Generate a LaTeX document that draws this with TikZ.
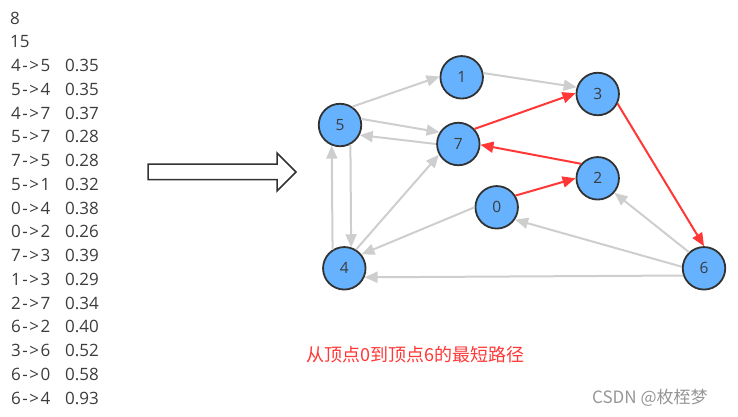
\documentclass[tikz,border=0pt]{standalone}
\usepackage{fontspec}
\setmainfont{Open Sans}
\newfontfamily\cjkfont{Noto Sans CJK SC}
\newfontfamily\listspaced{Open Sans}[LetterSpace=9]
\usetikzlibrary{arrows.meta}
\definecolor{edgegray}{RGB}{206,206,206}
\definecolor{pathred}{RGB}{255,55,55}
\definecolor{nodeblue}{RGB}{102,178,255}
\definecolor{borderdark}{RGB}{50,50,50}
\definecolor{textdark}{RGB}{60,60,60}
\definecolor{wmgray}{RGB}{150,150,150}
\tikzset{
  vertex/.style={circle, draw=borderdark, fill=nodeblue, line width=1.8pt,
    minimum size=42.5pt, inner sep=0pt, text=textdark,
    font=\fontsize{15.5}{15.5}\selectfont},
  gedge/.style={draw=edgegray, line width=2pt, -{Triangle[length=13pt,width=11pt]}},
  redge/.style={draw=pathred, line width=2pt, -{Triangle[length=13pt,width=11pt]}},
  listtxt/.style={anchor=base west, inner sep=0pt, text=textdark,
    font=\fontsize{17}{17}\selectfont},
  listedge/.style={listtxt, font=\listspaced\fontsize{17}{17}\selectfont},
  bigarrow/.style={draw=borderdark, line width=1.5pt, fill=white, line join=miter}
}
\begin{document}
\begin{tikzpicture}[x=1pt,y=-1pt]
\useasboundingbox (0,0) rectangle (738,416);

% left list
\node[listtxt] (l0) at (10,24) {8};
\node[listtxt] (l1) at (10,47.75) {15};
\foreach \i/\a/\b in {2/4->5/0.35,3/5->4/0.35,4/4->7/0.37,5/5->7/0.28,6/7->5/0.28,
  7/5->1/0.32,8/0->4/0.38,9/0->2/0.26,10/7->3/0.39,11/1->3/0.29,12/2->7/0.34,
  13/6->2/0.40,14/3->6/0.52,15/6->0/0.58,16/6->4/0.93}{
  \node[listedge] (la\i) at (11,24+\i*23.75) {\a};
  \node[listtxt] (lb\i) at (65,24+\i*23.75) {\b};
}

% hollow arrow
\draw[bigarrow] (148,164) -- (277,164) -- (277,153) -- (296,172) -- (277,191)
  -- (277,179.5) -- (148,179.5) -- cycle;

% vertices
\node[vertex] (n1) at (461.7,77.3) {1};
\node[vertex] (n3) at (597.7,94) {3};
\node[vertex] (n5) at (340,125) {5};
\node[vertex] (n7) at (458.3,144) {7};
\node[vertex] (n2) at (597.7,178.3) {2};
\node[vertex] (n0) at (496.7,207.3) {0};
\node[vertex] (n4) at (344.3,268.3) {4};
\node[vertex] (n6) at (704,268.3) {6};

% gray edges
\draw[gedge] (n5.56) -- (n1.178);
\draw[gedge] (n1.11) -- (n3.162);
\draw[gedge] (n5.16) -- (n7.148);
\draw[gedge] (n7.180) -- (n5.-27);
\draw[gedge] (n4.122) -- (n5.-112);
\draw[gedge] (n5.-62) -- (n4.72);
\draw[gedge] (n4.58) -- (n7.-151);
\draw[gedge] (n0.180) -- (n4.39);
\draw[gedge] (n6.133) -- (n2.-41);
\draw[gedge] (n6.176) -- (n0.-34);
\draw[gedge] (n6.-161) -- (n4.-24);

% red edges
\draw[redge] (n0.32) -- (n2.180);
\draw[redge] (n2.139) -- (n7.-2);
\draw[redge] (n7.43) -- (n3.178);
\draw[redge] (n3.-26) -- (n6.90);

% captions
\node[anchor=base west, inner sep=0pt, text=pathred, font=\cjkfont\fontsize{18}{18}\selectfont]
  (cap) at (306,361) {从顶点0到顶点6的最短路径};
\node[anchor=base west, inner sep=0pt, text=wmgray, font=\cjkfont\fontsize{17}{17}\selectfont]
  (csdn) at (592,403) {CSDN @枚桎梦};
\end{tikzpicture}
\end{document}
